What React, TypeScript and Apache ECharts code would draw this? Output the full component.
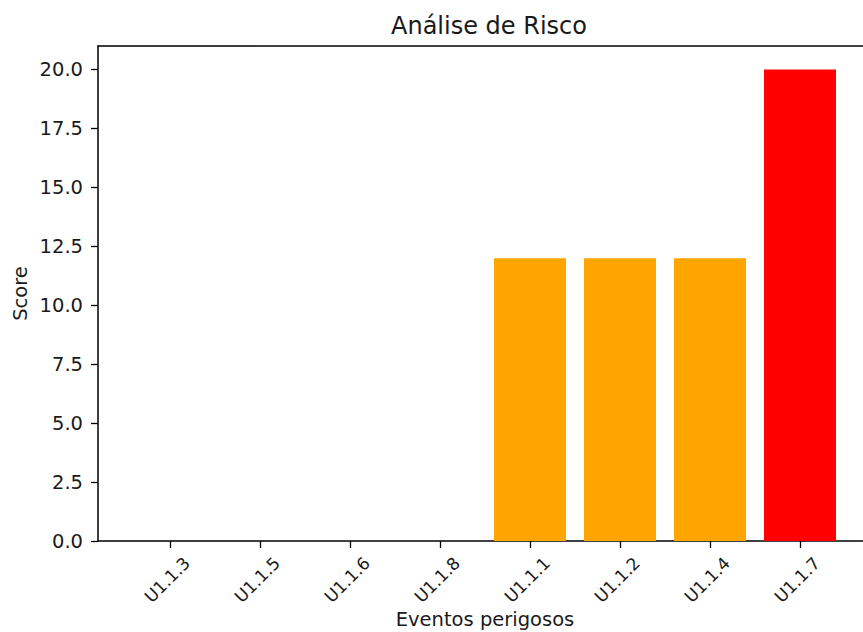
import React, { useEffect, useRef } from "react";
import * as echarts from "echarts";

const categories = ["U1.1.3", "U1.1.5", "U1.1.6", "U1.1.8", "U1.1.1", "U1.1.2", "U1.1.4", "U1.1.7"];
const scores = [0, 0, 0, 0, 12, 12, 12, 20];
const barColors = ["#FFA500", "#FFA500", "#FFA500", "#FFA500", "#FFA500", "#FFA500", "#FFA500", "#FF0000"];
const yTicks = [0, 2.5, 5, 7.5, 10, 12.5, 15, 17.5, 20];

const FONT = "DejaVu Sans";
const TXT = "#1a1a1a";
const FS = 19.5;
const FS_X = 17;

export default function App() {
  const ref = useRef<HTMLDivElement>(null);
  useEffect(() => {
    if (!ref.current) return;
    const chart = echarts.init(ref.current, null, { renderer: "svg" });
    const spine = { show: true, lineStyle: { color: "#000", width: 1.5 } };
    chart.setOption({
      animation: false,
      backgroundColor: "#fff",
      title: {
        text: "Análise de Risco",
        left: 484,
        top: 9,
        textAlign: "center",
        textStyle: { fontFamily: FONT, fontSize: 24, fontWeight: "normal", color: TXT },
      },
      grid: [
        { left: 98, top: 46, width: 774, height: 495, outerBoundsMode: "none" },
        { left: 125, top: 46, width: 720, height: 495, outerBoundsMode: "none" },
      ],
      xAxis: [
        {
          gridIndex: 0, type: "value", min: 0, max: 1, position: "bottom",
          axisLine: spine, axisTick: { show: false }, axisLabel: { show: false }, splitLine: { show: false },
        },
        {
          gridIndex: 0, type: "value", min: 0, max: 1, position: "top",
          axisLine: spine, axisTick: { show: false }, axisLabel: { show: false }, splitLine: { show: false },
        },
        {
          gridIndex: 1, type: "category", data: categories, position: "bottom",
          axisLine: { show: false },
          axisTick: { show: true, alignWithLabel: true, length: 7, lineStyle: { color: "#000", width: 1.3 } },
          axisLabel: {
            rotate: 45, align: "center", verticalAlign: "middle", margin: 36,
            padding: [0, 8, 0, 0],
            fontFamily: FONT, fontSize: FS_X, color: TXT, interval: 0,
          },
          name: "Eventos perigosos",
          nameLocation: "middle",
          nameGap: 68,
          nameMoveOverlap: false,
          nameTextStyle: { fontFamily: FONT, fontSize: FS, color: TXT, verticalAlign: "top" },
          splitLine: { show: false },
        },
      ],
      yAxis: [
        {
          gridIndex: 0, type: "value", min: 0, max: 21, interval: 2.5,
          axisLine: spine,
          axisTick: { show: true, length: 7, customValues: yTicks, lineStyle: { color: "#000", width: 1.3 } },
          axisLabel: {
            margin: 15, fontFamily: FONT, fontSize: FS, color: TXT,
            formatter: (v: number) => (v > 20 ? "" : v.toFixed(1)),
          },
          splitLine: { show: false },
          name: "Score",
          nameLocation: "middle",
          nameGap: 78,
          nameMoveOverlap: false,
          nameTextStyle: { fontFamily: FONT, fontSize: FS, color: TXT, verticalAlign: "middle" },
        },
        {
          gridIndex: 1, type: "value", min: 0, max: 21, show: false, splitLine: { show: false },
        },
      ],
      series: [
        {
          type: "bar",
          xAxisIndex: 2,
          yAxisIndex: 1,
          barWidth: "80%",
          data: scores.map((v, i) => ({ value: v, itemStyle: { color: barColors[i] } })),
        },
      ],
    });
    return () => chart.dispose();
  }, []);
  return (
    <div
      ref={ref}
      style={{ position: "fixed", left: 0, top: 0, width: 863, height: 632, background: "#fff" }}
    />
  );
}
